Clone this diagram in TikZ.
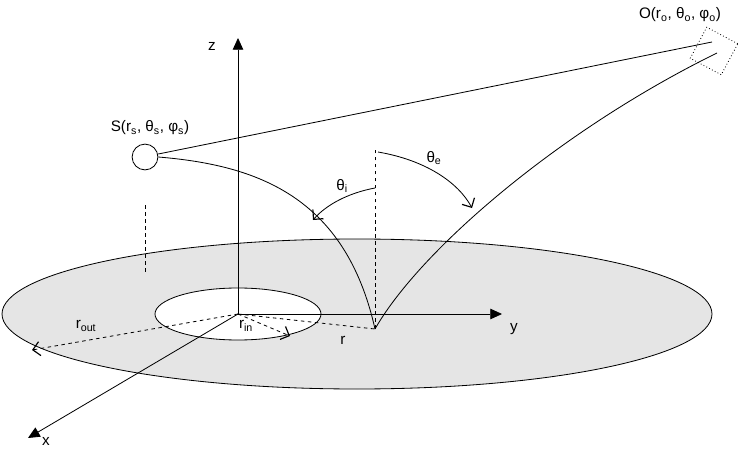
\documentclass[tikz,border=0pt]{standalone}
\usepackage{fontspec}
\setmainfont{Liberation Sans}
\usetikzlibrary{arrows.meta}
\begin{document}
\begin{tikzpicture}[x=0.03cm,y=-0.03cm,line width=0.7pt,font=\fontsize{13}{15}\selectfont]
\tikzstyle{axis}=[-{Triangle[length=10pt,width=9pt]}]
\tikzstyle{radius}=[dashed,-{Straight Barb[length=6pt,width=12pt,line width=1pt,sharp]}]
\tikzstyle{angle}=[-{Straight Barb[length=6pt,width=12pt,line width=1pt]}]
\useasboundingbox (0,0) rectangle (742,449);
% disk
\draw [fill=black!10] (357,314) ellipse (355 and 75);
\draw [fill=white] (238,314) ellipse (83 and 26);
% axes
\coordinate (orig) at (238,314);
\coordinate (zend) at (238,38);
\coordinate (yend) at (502,314);
\coordinate (xend) at (28,438);
\draw [axis] (orig) -- (zend);
\draw [axis] (orig) -- (yend);
\draw [axis] (orig) -- (xend);
\node (zlab) at (212,46) {z};
\node (ylab) at (514,329) {y};
\node (xlab) at (46,441) {x};
% radii
\coordinate (P) at (375,329);
\coordinate (routend) at (32,350);
\coordinate (rinend) at (290,336);
\draw [radius] (orig) -- (routend);
\draw [radius] (orig) -- (rinend);
\draw [dashed] (orig) -- (P);
\node (routlab) at (86,326) {r\textsubscript{out}};
\node (rinlab) at (246,326) {r\textsubscript{in}};
\node (rlab) at (343,340) {r};
% source
\node (S) [draw,circle,fill=white,minimum size=22pt,inner sep=0pt] at (145,157) {};
\node (Slab) at (150,128) {S(r\textsubscript{s}, θ\textsubscript{s}, φ\textsubscript{s})};
\draw [dashed] (145,205) -- (145,272);
\coordinate (Ptop) at (375,150);
\draw [dashed] (P) -- (Ptop);
% observer
\coordinate (O) at (714,51);
\node (Obox) [draw,dotted,rotate=-28,minimum size=30pt] at (O) {};
\node (Olab) at (680,15) {O(r\textsubscript{o}, θ\textsubscript{o}, φ\textsubscript{o})};
\coordinate (Oa) at (712,42);
\coordinate (Ob) at (717,53);
\draw (S.east) ++(0,-3) -- (Oa);
\draw (S.east) .. controls (255,165) and (345,195) .. (P);
\draw (P) .. controls (420,250) and (560,130) .. (Ob);
% angles
\coordinate (ti1) at (375,188);
\coordinate (ti2) at (313,220);
\coordinate (te1) at (378,152);
\coordinate (te2) at (472,208);
\draw [angle] (ti1) .. controls (348,193) and (326,205) .. (ti2);
\draw [angle] (te1) .. controls (425,160) and (458,182) .. (te2);
\node (tilab) at (342,186) {θ\textsubscript{i}};
\node (telab) at (434,158) {θ\textsubscript{e}};
\end{tikzpicture}
\end{document}
